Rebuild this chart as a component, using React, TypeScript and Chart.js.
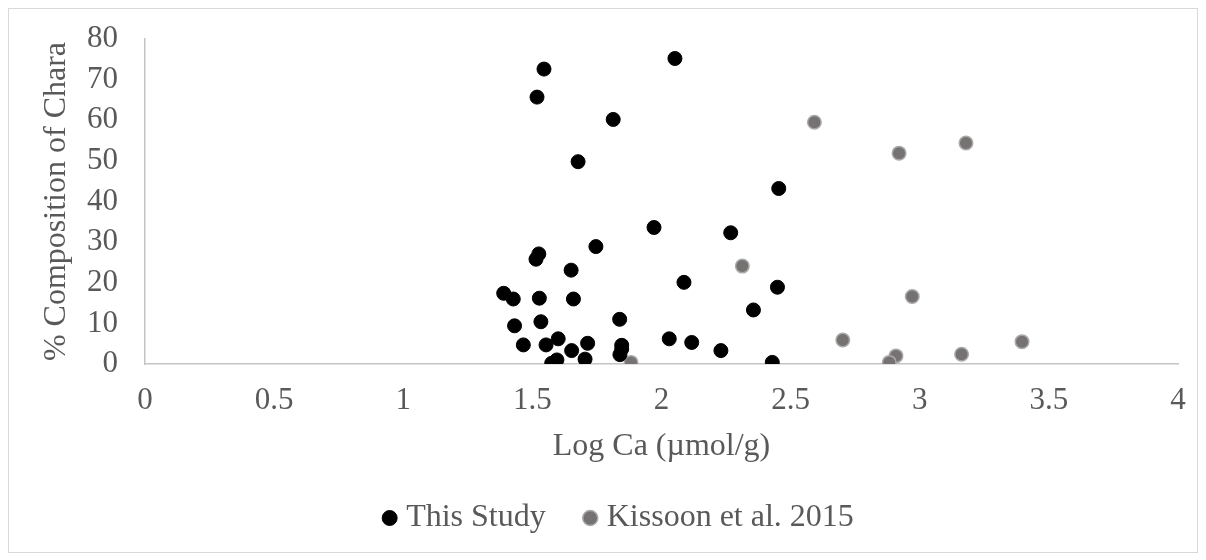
import React, { useEffect, useRef } from "react";
import { Chart, registerables } from "chart.js";

Chart.register(...registerables);

// This Study (Log Ca, % Chara)
const thisStudyX = [1.545, 1.518, 2.052, 1.813, 1.677, 2.454, 1.971, 2.268, 1.746, 1.525, 1.514, 1.65, 1.389, 1.426, 1.527, 1.659, 2.087, 2.449, 2.356, 1.431, 1.533, 1.838, 1.465, 1.553, 1.6, 1.652, 1.714, 1.575, 1.595, 1.704, 1.846, 1.846, 1.839, 2.03, 2.117, 2.23, 2.429];
const thisStudyY = [72.6, 65.7, 75.2, 60.2, 49.8, 43.2, 33.6, 32.3, 28.9, 27.1, 25.8, 23.1, 17.4, 16.0, 16.2, 16.0, 20.1, 18.9, 13.3, 9.4, 10.4, 11.0, 4.7, 4.7, 6.2, 3.3, 5.1, 0.2, 1.0, 1.2, 4.6, 3.7, 2.3, 6.2, 5.3, 3.3, 0.4];

// Kissoon et al. 2015
const kissoonX = [2.592, 2.92, 3.179, 2.313, 2.971, 2.702, 3.396, 3.162, 2.908, 2.882, 1.882];
const kissoonY = [59.5, 51.9, 54.4, 24.1, 16.6, 5.9, 5.5, 2.4, 2.0, 0.4, 0.4];

const seriesNames = ["This Study", "Kissoon et al. 2015"];
const xTitle = "Log Ca (µmol/g)";
const yTitle = "% Composition of Chara";

const FONT = '"Liberation Serif", "Times New Roman", serif';
const TEXT = "#595959";
const AXIS = "#c4c4c4";

export default function App() {
  const ref = useRef<HTMLCanvasElement | null>(null);

  useEffect(() => {
    if (!ref.current) return;
    const chart = new Chart(ref.current, {
      type: "scatter",
      data: {
        datasets: [
          {
            label: seriesNames[0],
            data: thisStudyX.map((x, i) => ({ x, y: thisStudyY[i] })),
            backgroundColor: "#000000",
            borderColor: "#000000",
            borderWidth: 1,
            pointRadius: 7,
            pointHoverRadius: 7,
            pointStyle: "circle",
          },
          {
            label: seriesNames[1],
            data: kissoonX.map((x, i) => ({ x, y: kissoonY[i] })),
            backgroundColor: "#767272",
            borderColor: "#a9a9a9",
            borderWidth: 1.5,
            pointRadius: 6.75,
            pointHoverRadius: 6.75,
            pointStyle: "circle",
          },
        ],
      },
      options: {
        responsive: false,
        animation: false,
        devicePixelRatio: 1,
        layout: { padding: { left: 56, right: 19, top: 30, bottom: 8 } },
        plugins: {
          tooltip: { enabled: false },
          legend: {
            position: "bottom",
            labels: {
              usePointStyle: true,
              boxWidth: 1,
              boxHeight: 10.6,
              padding: 44,
              color: TEXT,
              font: { family: FONT, size: 32 },
            },
          },
        },
        scales: {
          x: {
            type: "linear",
            min: 0,
            max: 4,
            grid: { display: false, drawTicks: false },
            border: { display: true, color: AXIS, width: 1.5 },
            ticks: {
              stepSize: 0.5,
              autoSkip: false,
              padding: 18,
              color: TEXT,
              font: { family: FONT, size: 31 },
              maxRotation: 0,
              callback: (v: any) => String(v),
            },
            title: {
              display: true,
              text: xTitle,
              color: TEXT,
              font: { family: FONT, size: 32 },
              padding: { top: 0, bottom: -8 },
            },
            afterFit: (s: any) => {
              s.height = 94;
              s.paddingLeft = 0;
              s.paddingRight = 0;
              s.paddingTop = 0;
              s.paddingBottom = 0;
            },
          },
          y: {
            type: "linear",
            min: 0,
            max: 80,
            grid: { display: false, drawTicks: false },
            border: { display: true, color: AXIS, width: 1.5 },
            ticks: {
              stepSize: 10,
              autoSkip: false,
              padding: 27,
              color: TEXT,
              font: { family: FONT, size: 31 },
            },
            title: {
              display: true,
              text: yTitle,
              color: TEXT,
              font: { family: FONT, size: 32 },
              padding: { top: -28, bottom: 0 },
            },
            afterFit: (s: any) => {
              s.width = 80;
              s.paddingTop = 0;
              s.paddingBottom = 0;
              s.paddingLeft = 0;
              s.paddingRight = 0;
            },
          },
        },
      },
    });
    return () => chart.destroy();
  }, []);

  return (
    <div
      style={{
        width: 1190,
        height: 545,
        boxSizing: "border-box",
        border: "1px solid #d9d9d9",
        background: "#fff",
      }}
    >
      <canvas ref={ref} width={1188} height={543} style={{ display: "block" }} />
    </div>
  );
}
